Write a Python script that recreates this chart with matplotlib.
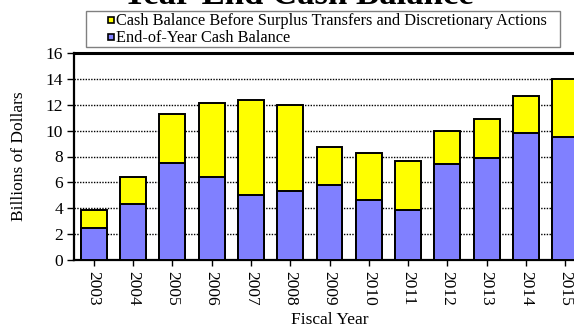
import matplotlib
matplotlib.use("Agg")
import matplotlib.pyplot as plt
from matplotlib.patches import Rectangle

years = ["2003", "2004", "2005", "2006", "2007", "2008", "2009",
         "2010", "2011", "2012", "2013", "2014", "2015"]
before_transfers = [3.9, 6.4, 11.3, 12.1, 12.4, 12.0, 8.7, 8.3, 7.65, 10.0, 10.9, 12.7, 14.0]
end_of_year = [2.5, 4.3, 7.5, 6.45, 5.0, 5.35, 5.8, 4.65, 3.9, 7.45, 7.9, 9.8, 9.5]
legend_labels = ["Cash Balance Before Surplus Transfers and Discretionary Actions",
                 "End-of-Year Cash Balance"]

yellow = "#FFFF00"
blue = "#8080FF"
serif = ["Liberation Serif", "DejaVu Serif"]
plt.rcParams["font.family"] = serif

W, H = 574, 331
fig = plt.figure(figsize=(W / 100, H / 100), dpi=100)


def fx(px):
    return px / W


def fy(py):
    return 1 - py / H


# plot area (right edge runs past the figure border)
left, right, bottom, top = 74, 585, 260, 53
ax = fig.add_axes([fx(left), fy(bottom), (right - left) / W, (bottom - top) / H])

x = list(range(len(years)))
ax.bar(x, before_transfers, width=0.66, color=yellow, edgecolor="black", linewidth=1.4, zorder=3)
ax.bar(x, end_of_year, width=0.66, color=blue, edgecolor="black", linewidth=1.4, zorder=4)

ax.set_xlim(-0.5, len(years) - 0.5)
ax.set_ylim(0, 16)
ax.set_yticks(range(0, 17, 2))
ax.set_xticks(x)
ax.set_xticklabels(years, rotation=270, fontsize=12.5)
ax.tick_params(axis="y", labelsize=12.5, direction="out", length=5, width=1, pad=3)
ax.tick_params(axis="x", direction="out", length=4, width=1, pad=4)

ax.yaxis.grid(True, linestyle=(0, (1, 1)), color="black", linewidth=1, zorder=1)
ax.set_axisbelow(True)
for s in ["left", "bottom"]:
    ax.spines[s].set_linewidth(1.6)
ax.spines["top"].set_linewidth(2.2)
ax.spines["right"].set_visible(False)

ax.set_ylabel("Billions of Dollars", fontsize=12.5, labelpad=13)
ax.set_xlabel("Fiscal Year", fontsize=12.5, labelpad=4)

# chart title, sitting partly above the top edge
fig.text(fx(298), fy(4), "Year-End Cash Balance", ha="center", va="baseline",
         fontsize=25, fontweight="bold")

# legend: frame, swatches and labels
fig.patches.append(Rectangle((fx(86), fy(47)), (560 - 86) / W, (47 - 11) / H,
                             transform=fig.transFigure, facecolor="white",
                             edgecolor="#808080", linewidth=1, zorder=5))
for label, color, cy in zip(legend_labels, [yellow, blue], [20.3, 37.0]):
    fig.patches.append(Rectangle((fx(108.3), fy(cy + 3)), 6 / W, 6 / H,
                                 transform=fig.transFigure, facecolor=color,
                                 edgecolor="black", linewidth=1.2, zorder=6))
    fig.text(fx(116), fy(cy + 0.5), label, ha="left", va="center",
             fontsize=11.7, zorder=7)

fig.savefig("out.png", dpi=100)
